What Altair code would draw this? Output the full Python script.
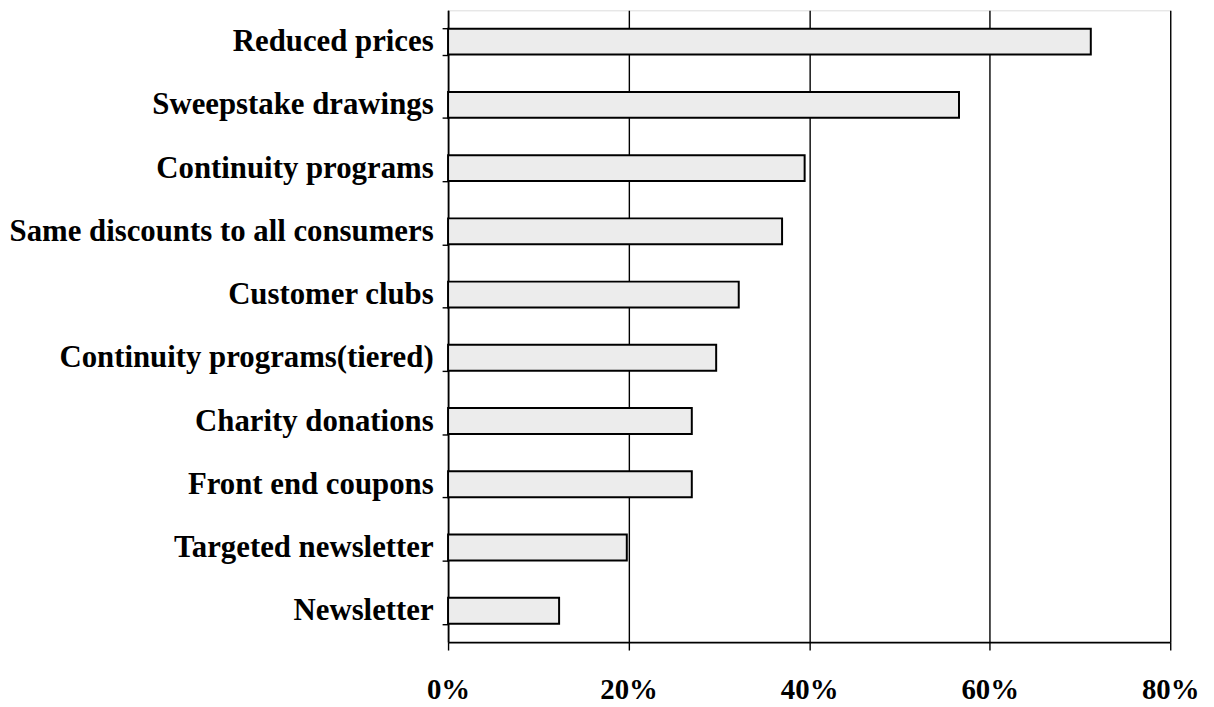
import altair as alt
import pandas as pd

categories = [
    "Reduced prices",
    "Sweepstake drawings",
    "Continuity programs",
    "Same discounts to all consumers",
    "Customer clubs",
    "Continuity programs(tiered)",
    "Charity donations",
    "Front end coupons",
    "Targeted newsletter",
    "Newsletter",
]
values = [71.2, 56.6, 39.5, 37.0, 32.2, 29.7, 27.0, 27.0, 19.8, 12.3]
x_ticks = [0, 20, 40, 60, 80]

df = pd.DataFrame({"cat": categories, "val": values})

FONT = "Liberation Serif"

chart = (
    alt.Chart(df)
    .mark_bar(fill="#ececec", stroke="black", strokeWidth=2)
    .encode(
        x=alt.X(
            "val:Q",
            scale=alt.Scale(domain=[0, 80], nice=False),
            axis=alt.Axis(
                values=x_ticks,
                labelExpr="datum.value + '%'",
                title=None,
                grid=True,
                gridColor="black",
                gridWidth=1.4,
                gridOpacity=1,
                domainColor="black",
                domainWidth=1.6,
                tickColor="black",
                tickWidth=1.4,
                tickSize=8,
                labelPadding=26,
                labelFlush=False,
                labelFont=FONT,
                labelFontSize=29,
                labelFontWeight="bold",
                labelColor="black",
            ),
        ),
        y=alt.Y(
            "cat:N",
            sort=categories,
            scale=alt.Scale(paddingInner=0.59, paddingOuter=0.29),
            axis=alt.Axis(
                title=None,
                domainColor="black",
                domainWidth=1.6,
                tickColor="black",
                tickWidth=1.4,
                tickSize=6,
                tickBand="extent",
                labelPadding=9,
                labelFont=FONT,
                labelFontSize=31,
                labelFontWeight="bold",
                labelColor="black",
                labelLimit=600,
            ),
        ),
    )
    .properties(
        width=727,
        height=636,
        autosize=alt.AutoSizeParams(type="none"),
        padding={"left": 443, "top": 0, "right": 36, "bottom": 62},
    )
    .configure_view(stroke=None)
    .configure(background="white")
)

chart.save("out.html", embed_options={"renderer": "svg", "actions": False})
